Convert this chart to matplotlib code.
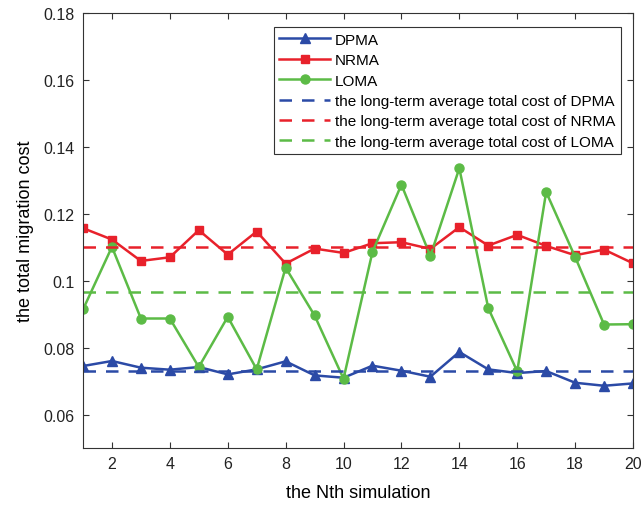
import matplotlib
matplotlib.use("Agg")
import matplotlib.pyplot as plt
from matplotlib.ticker import FuncFormatter

plt.rcParams['font.family'] = ['Liberation Sans', 'DejaVu Sans']

x = list(range(1, 21))
dpma = [0.0745, 0.0760, 0.0740, 0.0734, 0.0742, 0.0720, 0.0735, 0.0759, 0.0717, 0.0710,
        0.0746, 0.0731, 0.0713, 0.0787, 0.0735, 0.0724, 0.0730, 0.0695, 0.0686, 0.0693]
nrma = [0.1157, 0.1123, 0.1059, 0.1070, 0.1151, 0.1078, 0.1147, 0.1051, 0.1096, 0.1083,
        0.1112, 0.1115, 0.1095, 0.1160, 0.1105, 0.1137, 0.1104, 0.1076, 0.1093, 0.1052]
loma = [0.0914, 0.1101, 0.0887, 0.0887, 0.0742, 0.0892, 0.0735, 0.1039, 0.0896, 0.0707,
        0.1086, 0.1287, 0.1074, 0.1336, 0.0918, 0.0729, 0.1265, 0.1071, 0.0869, 0.0870]
avg_dpma = 0.0729
avg_nrma = 0.1102
avg_loma = 0.0966

blue = '#2b4aa6'
red = '#e8212b'
green = '#5cbb46'

fig = plt.figure(figsize=(6.42, 5.06), dpi=100)
ax = fig.add_axes([83/642, 1 - 449/506, 550/642, 435/506])

ax.plot(x, dpma, color=blue, marker='^', markersize=7, linewidth=1.8, label='DPMA')
ax.plot(x, nrma, color=red, marker='s', markersize=5.5, linewidth=1.8, label='NRMA')
ax.plot(x, loma, color=green, marker='o', markersize=6.5, linewidth=1.8, label='LOMA')
ax.plot([x[0], x[-1]], [avg_dpma, avg_dpma], color=blue, linestyle=(0, (5, 4)), linewidth=1.8,
        label='the long-term average total cost of DPMA')
ax.plot([x[0], x[-1]], [avg_nrma, avg_nrma], color=red, linestyle=(0, (5, 4)), linewidth=1.8,
        label='the long-term average total cost of NRMA')
ax.plot([x[0], x[-1]], [avg_loma, avg_loma], color=green, linestyle=(0, (5, 4)), linewidth=1.8,
        label='the long-term average total cost of LOMA')

ax.set_xlim(1, 20)
ax.set_ylim(0.05, 0.18)
ax.set_xticks([2, 4, 6, 8, 10, 12, 14, 16, 18, 20])
ax.set_yticks([0.06, 0.08, 0.10, 0.12, 0.14, 0.16, 0.18])
ax.yaxis.set_major_formatter(FuncFormatter(lambda v, p: '%g' % round(v, 2)))
ax.tick_params(direction='in', top=True, right=True, labelsize=11.5, length=4, width=0.8,
               colors='#333333', labelcolor='#222222', pad=6)
for s in ax.spines.values():
    s.set_linewidth(0.8)
    s.set_color('#333333')

ax.set_xlabel('the Nth simulation', fontsize=13, labelpad=9)
ax.set_ylabel('the total migration cost', fontsize=13, labelpad=7)

leg = ax.legend(loc='upper right', bbox_to_anchor=(0.978, 0.967), fontsize=11,
                fancybox=False, edgecolor='#333333', framealpha=1, handlelength=3.3,
                borderpad=0.35, labelspacing=0.42, handletextpad=0.35, borderaxespad=0)
leg.get_frame().set_linewidth(0.8)

fig.savefig('out.png', dpi=100)
